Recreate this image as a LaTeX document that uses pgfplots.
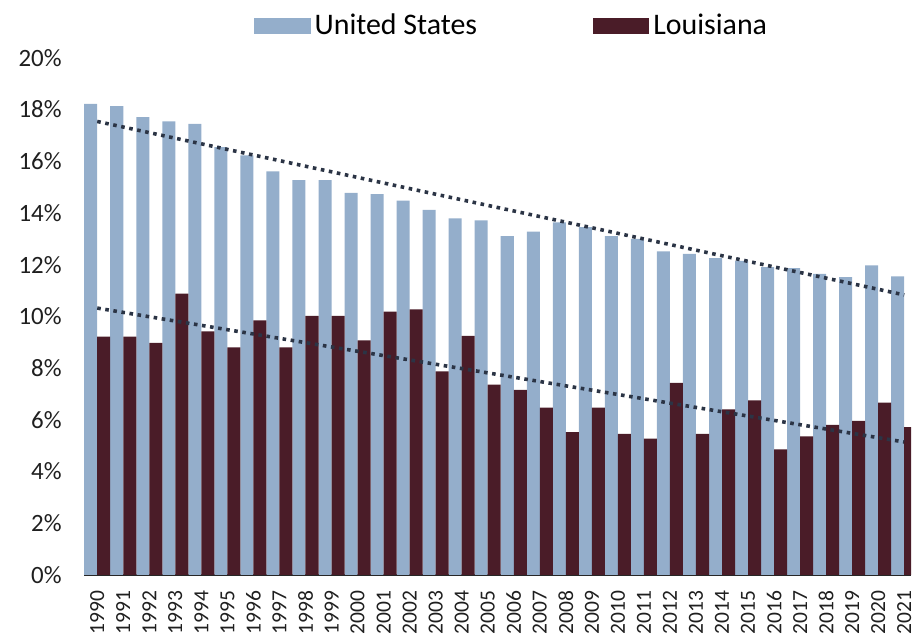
\documentclass[border={6pt 0pt 2pt 5pt}]{standalone}
\usepackage{pgfplots}
\pgfplotsset{compat=1.18}
\usepackage{fontspec}
\setmainfont{Carlito}

\definecolor{usblue}{HTML}{94AECB}
\definecolor{lamaroon}{HTML}{4A1C28}
\definecolor{trendgray}{HTML}{2B3445}
\definecolor{labelgray}{HTML}{1F1F1F}

% Poverty-type rates, 1990--2021 (x = years since 1990)
\pgfplotstableread{
x us la
0 18.22 9.22
1 18.13 9.22
2 17.71 8.97
3 17.54 10.88
4 17.45 9.42
5 16.55 8.80
6 16.23 9.84
7 15.61 8.80
8 15.27 10.02
9 15.27 10.02
10 14.78 9.07
11 14.73 10.18
12 14.48 10.27
13 14.12 7.87
14 13.79 9.24
15 13.71 7.36
16 13.10 7.16
17 13.28 6.47
18 13.64 5.52
19 13.45 6.47
20 13.10 5.45
21 13.00 5.27
22 12.51 7.43
23 12.42 5.45
24 12.25 6.40
25 12.15 6.75
26 11.90 4.85
27 11.87 5.36
28 11.64 5.80
29 11.52 5.96
30 11.97 6.66
31 11.55 5.71
}\ratedata

\begin{document}
\begin{tikzpicture}[trim axis right]
\begin{axis}[
  scale only axis,
  width=415pt, height=259.5pt,
  xmin=-0.5, xmax=31.26,
  ymin=0, ymax=20,
  clip=true,
  axis lines*=left,
  axis line style={-},
  y axis line style={draw=none},
  x axis line style={line width=1.3pt, color=black!85},
  major tick length=0pt,
  ytick={0,2,...,20},
  yticklabel={\pgfmathprintnumber{\tick}\%},
  yticklabel shift=7.8pt,
  yticklabel style={font=\fontsize{12.5}{13}\selectfont, text=labelgray},
  xtick={0,...,31},
  xticklabels={1990,1991,1992,1993,1994,1995,1996,1997,1998,1999,2000,2001,2002,2003,2004,2005,2006,2007,2008,2009,2010,2011,2012,2013,2014,2015,2016,2017,2018,2019,2020,2021},
  xticklabel style={rotate=90, anchor=east, font=\fontsize{10.8}{11}\selectfont, text=labelgray},
  xticklabel shift=4.5pt,
  /pgf/number format/assume math mode=true,
  legend columns=2,
  legend style={
    draw=none, fill=none,
    at={(axis description cs:0.518,1.062)}, anchor=center,
    font=\fontsize{15}{16}\selectfont,
    /tikz/every even column/.append style={column sep=56pt},
    inner sep=0pt,
  },
  legend cell align=left,
]
\addplot[ybar, bar width=0.5, bar shift=-0.25, fill=usblue, draw=none, area legend,
  legend image code/.code={\fill[usblue] (0pt,-4pt) rectangle (28.5pt,4pt);}]
  table[x=x, y=us] {\ratedata};
\addlegendentry{United States}
\addplot[ybar, bar width=0.5, bar shift=0.25, fill=lamaroon, draw=none, area legend,
  legend image code/.code={\fill[lamaroon] (0pt,-4pt) rectangle (28.5pt,4pt);}]
  table[x=x, y=la] {\ratedata};
\addlegendentry{Louisiana}

% linear trend lines
\addplot[forget plot, trendgray, line width=1.8pt, dash pattern=on 1.8pt off 2.3pt]
  coordinates {(0,17.54) (31,10.83)};
\addplot[forget plot, trendgray, line width=1.8pt, dash pattern=on 1.8pt off 2.3pt]
  coordinates {(0,10.32) (31,5.14)};
\end{axis}
\end{tikzpicture}
\end{document}
